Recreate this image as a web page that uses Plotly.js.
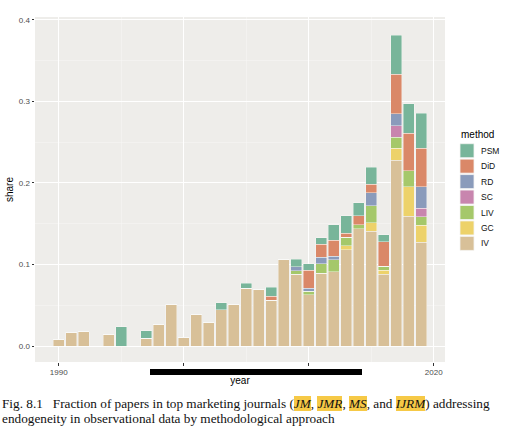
<!DOCTYPE html>
<html>
<head>
<meta charset="utf-8">
<script src="https://cdn.plot.ly/plotly-3.0.1.min.js"></script>
<style>
  body { margin: 0; background: #fff; }
  #wrap { position: relative; width: 512px; height: 438px; }
  #chart { position: absolute; left: 0; top: 0; width: 512px; height: 438px; }
  #bar { position: absolute; left: 150px; top: 369px; width: 212px; height: 6px; background: #000; }
  #caption {
    position: absolute; left: 2px; top: 397px; width: 508px;
    font-family: "Liberation Serif", "Times New Roman", serif;
    font-size: 13.25px; line-height: 14.5px; color: #111;
  }
  #caption .hl { background: #f6c946; font-style: italic; }
</style>
</head>
<body>
<div id="wrap">
  <div id="chart"></div>
  <div id="bar"></div>
  <div id="caption">Fig. 8.1&nbsp;&nbsp; Fraction of papers in top marketing journals (<span class="hl">JM</span>, <span class="hl">JMR</span>, <span class="hl">MS</span>, and <span class="hl">IJRM</span>) addressing endogeneity in observational data by methodological approach</div>
</div>
<script>
// years with at least one paper
var years = [1990, 1991, 1992, 1994, 1995, 1997, 1998, 1999, 2000, 2001, 2002, 2003, 2004, 2005,
             2006, 2007, 2008, 2009, 2010, 2011, 2012, 2013, 2014, 2015, 2016, 2017, 2018, 2019];

// share per method
var IV  = [0.008, 0.017, 0.0175, 0.0146, 0, 0.0094, 0.026, 0.051, 0.011, 0.0387, 0.029, 0.0448, 0.051, 0.071,
           0.0695, 0.056, 0.1065, 0.088, 0.063, 0.089, 0.091, 0.118, 0.144, 0.1406, 0.088, 0.228, 0.159, 0.127];
var GC  = [0, 0, 0, 0, 0, 0, 0, 0, 0, 0, 0, 0, 0, 0,
           0, 0, 0, 0, 0, 0, 0, 0.005, 0, 0.0105, 0.0047, 0.0146, 0.036, 0.021];
var LIV = [0, 0, 0, 0, 0, 0, 0, 0, 0, 0, 0, 0, 0, 0,
           0, 0, 0, 0.0045, 0.004, 0.012, 0.0147, 0.0105, 0.005, 0.021, 0.005, 0.0134, 0.020, 0.0105];
var SC  = [0, 0, 0, 0, 0, 0, 0, 0, 0, 0, 0, 0, 0, 0,
           0, 0, 0, 0, 0, 0, 0, 0, 0, 0, 0, 0.014, 0, 0.0105];
var RD  = [0, 0, 0, 0, 0, 0, 0, 0, 0, 0, 0, 0, 0, 0,
           0, 0, 0, 0.005, 0.004, 0.008, 0.0043, 0, 0, 0.016, 0, 0.015, 0, 0.0265];
var DiD = [0, 0, 0, 0, 0, 0, 0, 0, 0, 0, 0, 0, 0, 0,
           0, 0.0053, 0, 0, 0.0217, 0.016, 0.0196, 0.005, 0.0106, 0.010, 0.030, 0.048, 0.046, 0.047];
var PSM = [0, 0, 0, 0, 0.024, 0.0093, 0, 0, 0, 0, 0, 0.0085, 0, 0.006,
           0, 0.011, 0, 0.009, 0.0085, 0.008, 0.019, 0.021, 0.016, 0.021, 0.009, 0.048, 0.036, 0.043];

var methods = ['IV', 'GC', 'LIV', 'SC', 'RD', 'DiD', 'PSM'];
var series  = [IV, GC, LIV, SC, RD, DiD, PSM];
var colors  = ['#d8c098', '#edd26a', '#a5c86a', '#c885ae', '#8a9bbb', '#da8868', '#78b59a'];

var W = 512, H = 438;
var mar = { l: 35, r: 67, t: 17, b: 76 };
var sans = 'Liberation Sans, Arial, sans-serif';

var traces = [];
for (let i = 0; i < methods.length; i++) {
    traces.push({
        type: 'bar',
        name: methods[i],
        x: years,
        y: series[i],
        width: 0.9,
        showlegend: false,
        marker: { color: colors[i], line: { color: 'rgba(250,250,248,0.7)', width: 0.6 } }
    });
}

// hand-made legend (ggplot-style, tighter than plotly's own)
function px(xp) { return (xp - mar.l) / (W - mar.l - mar.r); }
function py(yp) { return (H - mar.b - yp) / (H - mar.t - mar.b); }

var shapes = [], annotations = [];
annotations.push({
    xref: 'paper', yref: 'paper', x: px(459), y: py(134), xanchor: 'left', yanchor: 'middle',
    text: 'method', showarrow: false, font: { family: sans, size: 10, color: '#000' }
});
var order = methods.slice().reverse();
var ocols = colors.slice().reverse();
for (let k = 0; k < order.length; k++) {
    let yc = 150.7 + k * 15.45;
    shapes.push({
        type: 'rect', xref: 'paper', yref: 'paper',
        x0: px(460), x1: px(474), y0: py(yc - 7), y1: py(yc + 7),
        fillcolor: ocols[k], line: { color: '#f4f4f2', width: 0.8 }
    });
    annotations.push({
        xref: 'paper', yref: 'paper', x: px(479), y: py(yc), xanchor: 'left', yanchor: 'middle',
        text: order[k], showarrow: false, font: { family: sans, size: 8.5, color: '#111' }
    });
}

var tickfont = { family: sans, size: 8, color: '#4d4d4d' };

var layout = {
    width: W,
    height: H,
    margin: mar,
    barmode: 'stack',
    bargap: 0.1,
    paper_bgcolor: '#ffffff',
    plot_bgcolor: '#eeedea',
    showlegend: false,
    shapes: shapes,
    annotations: annotations,
    xaxis: {
        range: [1988.1, 2020.9],
        tickvals: [1990, 2000, 2010, 2020],
        ticks: 'outside', ticklen: 2.5, tickcolor: '#333', tickwidth: 1,
        tickfont: tickfont,
        showgrid: true, gridcolor: '#ffffff', gridwidth: 1,
        minor: { tickvals: [1995, 2005, 2015], showgrid: true, gridcolor: '#f8f8f6', gridwidth: 0.5, ticks: '' },
        zeroline: false, showline: false,
        title: { text: 'year', font: { family: sans, size: 10, color: '#000' }, standoff: 0 }
    },
    yaxis: {
        range: [-0.0195, 0.4033],
        tickvals: [0, 0.1, 0.2, 0.3, 0.4],
        ticktext: ['0.0', '0.1', '0.2', '0.3', '0.4'],
        ticks: 'outside', ticklen: 2.5, tickcolor: '#333', tickwidth: 1,
        tickfont: tickfont,
        showgrid: true, gridcolor: '#ffffff', gridwidth: 1,
        minor: { tickvals: [0.05, 0.15, 0.25, 0.35], showgrid: true, gridcolor: '#f8f8f6', gridwidth: 0.5, ticks: '' },
        zeroline: false, showline: false,
        title: { text: 'share', font: { family: sans, size: 10, color: '#000' }, standoff: 3 }
    }
};

Plotly.newPlot('chart', traces, layout, { displayModeBar: false, staticPlot: true });
</script>
</body>
</html>
